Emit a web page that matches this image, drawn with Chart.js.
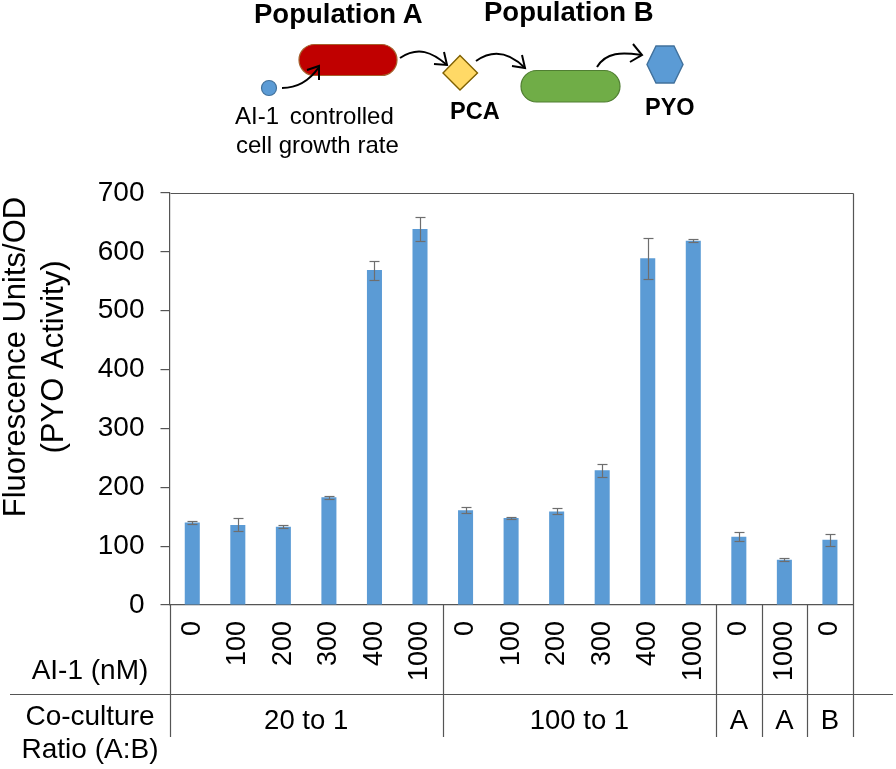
<!DOCTYPE html>
<html>
<head>
<meta charset="utf-8">
<title>PYO activity</title>
<script src="https://cdn.jsdelivr.net/npm/chart.js@4"></script>
<style>
  html, body { margin: 0; padding: 0; background: #fff; }
  #wrap { position: relative; width: 896px; height: 769px; overflow: hidden; }
  canvas { position: absolute; left: 0; top: 0; }
  #diagram { position: absolute; left: 0; top: 0; }
  #diagram text { font-family: "Liberation Sans", Arial, sans-serif; fill: #000; }
  #diagram .head { font-size: 27.5px; font-weight: bold; }
  #diagram .mol { font-size: 23.5px; font-weight: bold; }
  #diagram .note { font-size: 24px; }
  #diagram .arrow { fill: none; stroke: #000; stroke-width: 2; }
</style>
</head>
<body>
<div id="wrap">
  <canvas id="chart" width="896" height="769"></canvas>
  <svg id="diagram" width="896" height="170">
    <text class="head" x="254" y="23">Population A</text>
    <text class="head" x="484" y="21">Population B</text>
    <rect x="299" y="44.5" width="98" height="31" rx="15.5" fill="#c00000" stroke="#a5602c" stroke-width="1.2"/>
    <circle cx="269" cy="88" r="7.5" fill="#5b9bd5" stroke="#41719c" stroke-width="1.2"/>
    <path class="arrow" d="M282 88 C298 88 310 80 319 67"/>
    <path class="arrow" d="M307 70 L319 66 L319 80"/>
    <polygon points="460,55.5 477.5,73 460,90 443,73" fill="#ffd966" stroke="#7f6000" stroke-width="1.4"/>
    <path class="arrow" d="M400 58 C418 46 432 52 447 65"/>
    <path class="arrow" d="M434 64 L447 65 L444 52"/>
    <rect x="521" y="70.5" width="99" height="31.5" rx="15.7" fill="#70ad47" stroke="#507e32" stroke-width="1.2"/>
    <path class="arrow" d="M476 61 C493 49 510 53 525 68"/>
    <path class="arrow" d="M512 66 L525 68 L522 55"/>
    <path class="arrow" d="M597 67 C606 52 622 52 641 55"/>
    <path class="arrow" d="M633 44 L642 55 L630 62"/>
    <polygon points="656,46 674,46 683,64.5 674,83 656,83 647,64.5" fill="#5b9bd5" stroke="#41719c" stroke-width="1.4"/>
    <text class="mol" x="450" y="119">PCA</text>
    <text class="mol" x="645" y="115">PYO</text>
    <text class="note" x="235" y="124" word-spacing="4">AI-1 controlled</text>
    <text class="note" x="236" y="153">cell growth rate</text>
  </svg>
</div>
<script>
const aiLevels = ['0', '100', '200', '300', '400', '1000', '0', '100', '200', '300', '400', '1000', '0', '1000', '0'];
const activity = [140, 136, 133, 183, 569, 639, 161, 148, 159, 229, 589, 619, 116, 77, 111];
const activityErr = [3, 11, 3, 3, 16, 21, 5, 2, 5, 11, 35, 3, 8, 3, 10];
const yTicks = [0, 100, 200, 300, 400, 500, 600, 700];
const groupLabels = ['20 to 1', '100 to 1', 'A', 'A', 'B'];
const groupSizes = [6, 6, 1, 1, 1];

const FONT = '"Liberation Sans", Arial, sans-serif';
const BAR_COLOR = '#5b9bd5';
const LINE_COLOR = '#555';
const TABLE_BOTTOM = 737;
const ROW_LINE = 694.5;

function line(ctx, x1, y1, x2, y2) {
  ctx.beginPath();
  ctx.moveTo(x1, y1);
  ctx.lineTo(x2, y2);
  ctx.stroke();
}

// error bars
const errorBars = {
  id: 'errorBars',
  afterDatasetsDraw(chart) {
    const { ctx, scales: { x, y } } = chart;
    ctx.save();
    ctx.strokeStyle = '#6e6e6e';
    ctx.lineWidth = 1.2;
    activity.forEach((v, i) => {
      const px = Math.round(x.getPixelForValue(i)) + 0.5;
      const hi = Math.round(y.getPixelForValue(v + activityErr[i])) + 0.5;
      const lo = Math.round(y.getPixelForValue(v - activityErr[i])) + 0.5;
      line(ctx, px, hi, px, lo);
      line(ctx, px - 5, hi, px + 5, hi);
      line(ctx, px - 5, lo, px + 5, lo);
    });
    ctx.restore();
  },
};

// frame, table rows under the axis and the texts round it
const tableLines = {
  id: 'tableLines',
  afterDraw(chart) {
    const { ctx, chartArea, scales: { x } } = chart;
    const step = (chartArea.right - chartArea.left) / aiLevels.length;
    ctx.save();
    ctx.strokeStyle = LINE_COLOR;
    ctx.lineWidth = 1.2;
    const top = Math.round(chartArea.top) + 0.5;
    const left = Math.round(chartArea.left) + 0.5;
    const right = Math.round(chartArea.right) + 0.5;
    line(ctx, left, top, right, top);
    line(ctx, right, top, right, TABLE_BOTTOM);
    line(ctx, left, chartArea.bottom, left, TABLE_BOTTOM);
    line(ctx, 10, ROW_LINE, 893, ROW_LINE);

    ctx.fillStyle = '#000';
    ctx.textAlign = 'center';
    ctx.textBaseline = 'alphabetic';
    ctx.font = '27.5px ' + FONT;
    let start = 0;
    groupSizes.forEach((n, g) => {
      const end = start + n;
      if (end < aiLevels.length) {
        const xr = Math.round(chartArea.left + end * step) + 0.5;
        line(ctx, xr, chartArea.bottom, xr, TABLE_BOTTOM);
      }
      const mid = (x.getPixelForValue(start) + x.getPixelForValue(end - 1)) / 2;
      ctx.fillText(groupLabels[g], mid, 729);
      start = end;
    });

    ctx.font = '28px ' + FONT;
    ctx.fillText('AI-1 (nM)', 90, 679);
    ctx.fillText('Co-culture', 90, 725);
    ctx.fillText('Ratio (A:B)', 90, 758);

    ctx.font = '31px ' + FONT;
    ctx.translate(0, 357);
    ctx.rotate(-Math.PI / 2);
    ctx.fillText('Fluorescence Units/OD', 0, 25);
    ctx.fillText('(PYO Activity)', 0, 62.5);
    ctx.restore();
  },
};

new Chart(document.getElementById('chart'), {
  type: 'bar',
  data: {
    labels: aiLevels,
    datasets: [{
      data: activity,
      backgroundColor: BAR_COLOR,
      borderWidth: 0,
      categoryPercentage: 1,
      barPercentage: 0.33,
    }],
  },
  options: {
    responsive: false,
    animation: false,
    layout: { padding: { top: 193, right: 43.3, bottom: 0, left: 0 } },
    plugins: { legend: { display: false }, tooltip: { enabled: false } },
    scales: {
      x: {
        grid: { drawOnChartArea: false, drawTicks: false },
        border: { color: LINE_COLOR, width: 1.2 },
        ticks: {
          color: '#000',
          font: { family: FONT, size: 27 },
          minRotation: 90,
          maxRotation: 90,
          autoSkip: false,
          padding: 16,
        },
        afterFit(scale) { scale.height = 164; },
      },
      y: {
        min: 0,
        max: 700,
        grid: { drawOnChartArea: false, tickLength: 9, color: LINE_COLOR, lineWidth: 1.2 },
        border: { color: LINE_COLOR, width: 1.2 },
        afterBuildTicks(scale) { scale.ticks = yTicks.map((value) => ({ value })); },
        ticks: {
          color: '#000',
          font: { family: FONT, size: 28 },
          padding: 16,
        },
        afterFit(scale) { scale.width = 169.5; },
      },
    },
  },
  plugins: [errorBars, tableLines],
});
</script>
</body>
</html>
